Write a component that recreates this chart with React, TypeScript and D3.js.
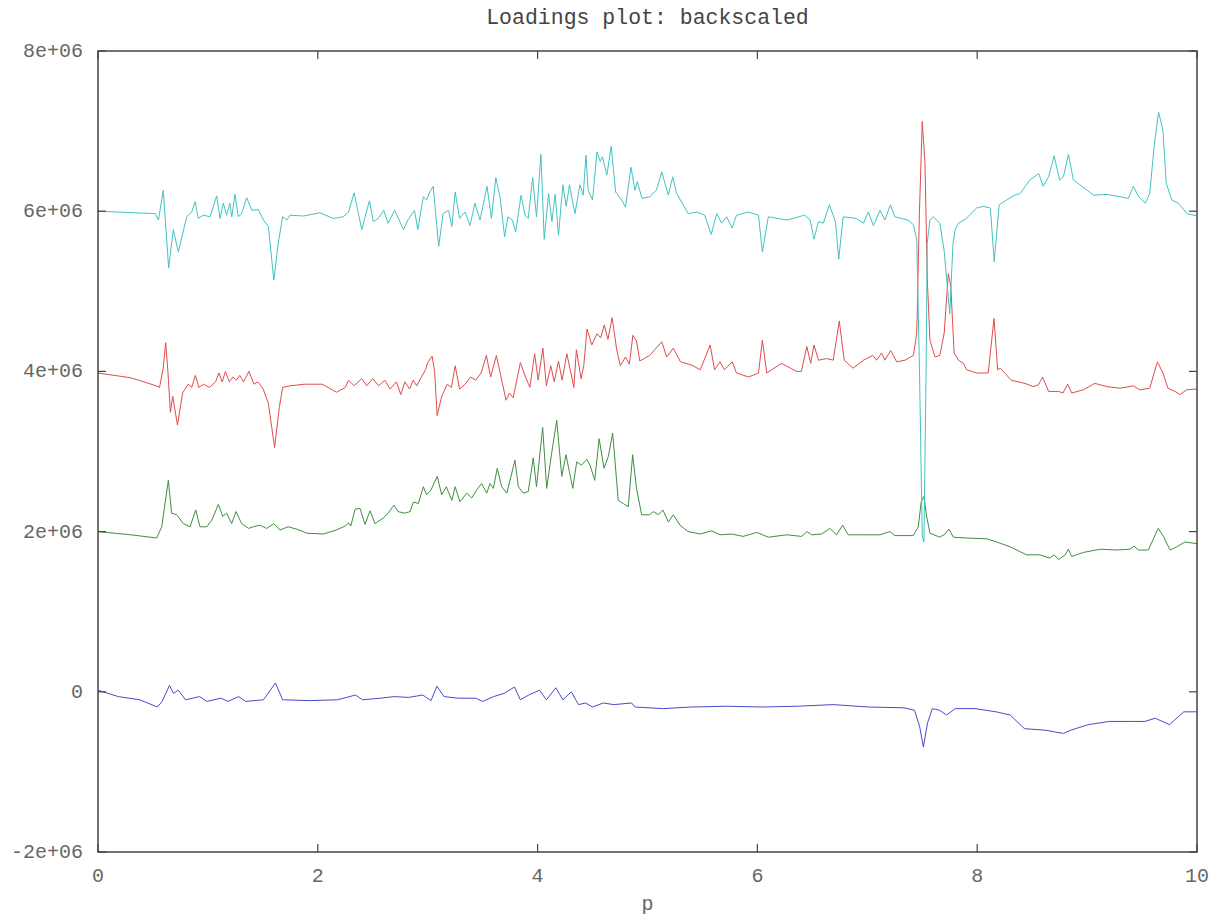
import React from "react";
import * as d3 from "d3";

const xTicks = [0, 2, 4, 6, 8, 10];
const yTicks = [-2e6, 0, 2e6, 4e6, 6e6, 8e6];
const titleText = "Loadings plot: backscaled";
const xLabel = "p";

// values: [p, loading in millions]
const blueSeries: [number, number][] = [
  [0, 0.02], [0.185, -0.06], [0.38, -0.1], [0.54, -0.19], [0.584, -0.12], [0.65, 0.08], [0.687, -0.02], [0.73, 0.02],
  [0.797, -0.1], [0.925, -0.06], [0.99, -0.12], [1.12, -0.08], [1.183, -0.12], [1.28, -0.06], [1.344, -0.12],
  [1.505, -0.1], [1.615, 0.11], [1.68, -0.1], [1.925, -0.11], [2.18, -0.1], [2.343, -0.04], [2.407, -0.1],
  [2.568, -0.08], [2.697, -0.06], [2.826, -0.07], [2.955, -0.04], [3.03, -0.11], [3.084, 0.07], [3.148, -0.06],
  [3.277, -0.08], [3.438, -0.08], [3.5, -0.12], [3.6, -0.06], [3.695, -0.02], [3.79, 0.06], [3.843, -0.1],
  [3.92, -0.04], [4.017, 0.02], [4.08, -0.1], [4.166, 0.05], [4.23, -0.1], [4.307, 0.0], [4.372, -0.16],
  [4.436, -0.14], [4.5, -0.19], [4.597, -0.14], [4.694, -0.16], [4.855, -0.14], [4.887, -0.19], [5.145, -0.21],
  [5.4, -0.19], [5.724, -0.18], [6.046, -0.19], [6.37, -0.18], [6.69, -0.16], [7.013, -0.19], [7.335, -0.2],
  [7.43, -0.23], [7.477, -0.44], [7.51, -0.69], [7.548, -0.39], [7.592, -0.21], [7.657, -0.23], [7.722, -0.29],
  [7.8, -0.21], [7.98, -0.21], [8.172, -0.25], [8.3, -0.29], [8.43, -0.46], [8.623, -0.48], [8.785, -0.52],
  [8.85, -0.48], [9.01, -0.41], [9.203, -0.37], [9.396, -0.37], [9.525, -0.37], [9.62, -0.33], [9.75, -0.41],
  [9.88, -0.25], [10, -0.25],
];

const greenSeries: [number, number][] = [
  [0, 2.0], [0.3, 1.96], [0.534, 1.92], [0.58, 2.06], [0.64, 2.64], [0.67, 2.23], [0.716, 2.21], [0.776, 2.1],
  [0.837, 2.06], [0.89, 2.27], [0.928, 2.06], [0.99, 2.06], [1.035, 2.14], [1.095, 2.34], [1.135, 2.19],
  [1.17, 2.23], [1.216, 2.1], [1.256, 2.25], [1.307, 2.1], [1.37, 2.04], [1.413, 2.06], [1.474, 2.08],
  [1.535, 2.04], [1.6, 2.1], [1.656, 2.02], [1.73, 2.06], [1.81, 2.03], [1.9, 1.98], [2.05, 1.97], [2.17, 2.02],
  [2.25, 2.07], [2.28, 2.11], [2.3, 2.07], [2.34, 2.28], [2.384, 2.29], [2.43, 2.09], [2.475, 2.26], [2.52, 2.1],
  [2.596, 2.17], [2.64, 2.23], [2.693, 2.33], [2.73, 2.25], [2.79, 2.23], [2.84, 2.25], [2.87, 2.37],
  [2.915, 2.35], [2.96, 2.56], [2.99, 2.46], [3.03, 2.52], [3.087, 2.69], [3.127, 2.46], [3.17, 2.56],
  [3.22, 2.39], [3.25, 2.56], [3.294, 2.37], [3.355, 2.48], [3.4, 2.42], [3.446, 2.52], [3.49, 2.6],
  [3.537, 2.48], [3.567, 2.6], [3.597, 2.54], [3.633, 2.79], [3.673, 2.56], [3.72, 2.48], [3.794, 2.89],
  [3.825, 2.56], [3.87, 2.48], [3.915, 2.5], [3.96, 2.92], [3.99, 2.56], [4.046, 3.3], [4.083, 2.54],
  [4.128, 2.98], [4.174, 3.39], [4.22, 2.69], [4.258, 2.96], [4.32, 2.54], [4.356, 2.87], [4.4, 2.83],
  [4.447, 2.9], [4.477, 2.83], [4.52, 2.64], [4.56, 3.16], [4.604, 2.79], [4.644, 2.94], [4.683, 3.23],
  [4.734, 2.39], [4.78, 2.35], [4.825, 2.31], [4.865, 2.96], [4.9, 2.54], [4.947, 2.21], [5.02, 2.21],
  [5.053, 2.25], [5.1, 2.21], [5.14, 2.27], [5.19, 2.12], [5.235, 2.21], [5.296, 2.08], [5.37, 2.0],
  [5.48, 1.97], [5.584, 2.01], [5.66, 1.96], [5.766, 1.97], [5.87, 1.94], [5.994, 1.99], [6.1, 1.93],
  [6.266, 1.96], [6.403, 1.94], [6.45, 2.0], [6.494, 1.96], [6.585, 1.97], [6.66, 2.04], [6.72, 1.96],
  [6.776, 2.08], [6.827, 1.96], [6.994, 1.96], [7.115, 1.96], [7.206, 2.0], [7.25, 1.95], [7.418, 1.95],
  [7.464, 2.06], [7.49, 2.37], [7.516, 2.44], [7.54, 2.19], [7.57, 1.98], [7.66, 1.93], [7.707, 1.97],
  [7.743, 2.03], [7.783, 1.93], [7.905, 1.92], [8.087, 1.91], [8.177, 1.87], [8.3, 1.81], [8.45, 1.71],
  [8.57, 1.71], [8.66, 1.67], [8.7, 1.71], [8.74, 1.65], [8.8, 1.71], [8.83, 1.78], [8.86, 1.69],
  [8.967, 1.74], [9.117, 1.78], [9.27, 1.77], [9.39, 1.78], [9.427, 1.82], [9.466, 1.77], [9.557, 1.77],
  [9.6, 1.9], [9.647, 2.04], [9.694, 1.94], [9.755, 1.77], [9.816, 1.81], [9.89, 1.87], [10, 1.85],
];

const redSeries: [number, number][] = [
  [0, 3.98], [0.3, 3.92], [0.53, 3.82], [0.56, 3.8], [0.593, 4.04], [0.616, 4.36], [0.636, 4.0], [0.659, 3.49],
  [0.68, 3.69], [0.723, 3.33], [0.77, 3.73], [0.82, 3.84], [0.853, 3.8], [0.886, 3.95], [0.918, 3.8],
  [0.96, 3.84], [1.015, 3.8], [1.07, 3.87], [1.1, 3.98], [1.13, 3.87], [1.16, 4.0], [1.195, 3.87],
  [1.227, 3.93], [1.26, 3.89], [1.29, 3.95], [1.325, 3.87], [1.373, 4.0], [1.42, 3.84], [1.455, 3.87],
  [1.503, 3.78], [1.55, 3.6], [1.607, 3.05], [1.65, 3.55], [1.68, 3.8], [1.75, 3.82], [1.877, 3.84],
  [2.04, 3.84], [2.17, 3.74], [2.25, 3.8], [2.28, 3.89], [2.33, 3.82], [2.4, 3.91], [2.445, 3.82], [2.5, 3.91],
  [2.553, 3.82], [2.61, 3.89], [2.657, 3.78], [2.715, 3.87], [2.755, 3.71], [2.793, 3.87], [2.835, 3.78],
  [2.868, 3.89], [2.9, 3.82], [2.943, 3.93], [2.98, 4.02], [3.0, 4.11], [3.04, 4.19], [3.063, 4.0],
  [3.086, 3.45], [3.128, 3.69], [3.177, 3.84], [3.216, 3.8], [3.25, 4.07], [3.29, 3.78], [3.34, 3.84],
  [3.39, 3.93], [3.437, 3.89], [3.486, 3.98], [3.534, 4.2], [3.573, 3.93], [3.625, 4.2], [3.664, 3.95],
  [3.713, 3.64], [3.745, 3.73], [3.778, 3.67], [3.843, 4.11], [3.89, 3.93], [3.93, 3.8], [3.973, 4.22],
  [4.005, 3.89], [4.048, 4.29], [4.08, 3.82], [4.12, 4.07], [4.152, 3.87], [4.19, 4.13], [4.223, 3.89],
  [4.266, 4.22], [4.3, 4.0], [4.33, 3.8], [4.353, 4.27], [4.396, 3.91], [4.42, 4.07], [4.45, 4.53],
  [4.493, 4.33], [4.54, 4.47], [4.574, 4.42], [4.607, 4.58], [4.64, 4.4], [4.678, 4.67], [4.72, 4.27],
  [4.753, 4.07], [4.8, 4.18], [4.835, 4.09], [4.867, 4.45], [4.9, 4.38], [4.93, 4.13], [5.02, 4.2],
  [5.13, 4.37], [5.175, 4.18], [5.235, 4.29], [5.3, 4.12], [5.4, 4.08], [5.48, 4.02], [5.57, 4.33],
  [5.61, 4.02], [5.66, 4.12], [5.7, 4.02], [5.77, 4.12], [5.81, 3.98], [5.92, 3.93], [6.01, 3.98],
  [6.045, 4.39], [6.085, 3.98], [6.22, 4.1], [6.357, 4.0], [6.4, 4.0], [6.45, 4.31], [6.485, 4.1],
  [6.515, 4.33], [6.555, 4.14], [6.63, 4.16], [6.69, 4.14], [6.745, 4.63], [6.79, 4.14], [6.87, 4.04],
  [6.965, 4.14], [7.05, 4.2], [7.085, 4.14], [7.13, 4.23], [7.16, 4.14], [7.213, 4.26], [7.267, 4.12],
  [7.343, 4.14], [7.42, 4.2], [7.45, 4.48], [7.474, 5.97], [7.5, 7.12], [7.525, 6.6], [7.546, 5.14],
  [7.57, 4.39], [7.616, 4.18], [7.66, 4.2], [7.7, 4.48], [7.737, 5.22], [7.76, 5.06], [7.79, 4.23],
  [7.83, 4.14], [7.874, 4.1], [7.905, 4.02], [7.995, 3.98], [8.1, 3.98], [8.153, 4.66], [8.186, 4.02],
  [8.21, 4.04], [8.31, 3.89], [8.435, 3.85], [8.51, 3.81], [8.556, 3.83], [8.595, 3.93], [8.65, 3.75],
  [8.74, 3.75], [8.78, 3.73], [8.823, 3.84], [8.86, 3.73], [8.965, 3.77], [9.07, 3.85], [9.18, 3.81],
  [9.3, 3.79], [9.42, 3.82], [9.48, 3.77], [9.57, 3.79], [9.61, 3.98], [9.64, 4.12], [9.69, 3.98],
  [9.735, 3.79], [9.8, 3.75], [9.845, 3.71], [9.905, 3.77], [10, 3.78],
];

const cyanSeries: [number, number][] = [
  [0, 6.0], [0.52, 5.97], [0.55, 5.89], [0.594, 6.26], [0.643, 5.29], [0.685, 5.77], [0.731, 5.49],
  [0.807, 5.93], [0.853, 5.99], [0.883, 6.12], [0.913, 5.91], [0.958, 5.95], [1.02, 5.93], [1.08, 6.19],
  [1.11, 5.91], [1.14, 6.1], [1.17, 5.95], [1.2, 6.1], [1.217, 5.93], [1.247, 6.21], [1.277, 5.93],
  [1.307, 5.97], [1.353, 6.17], [1.4, 6.01], [1.46, 6.02], [1.505, 5.89], [1.55, 5.81], [1.6, 5.14],
  [1.64, 5.6], [1.68, 5.93], [1.717, 5.89], [1.747, 5.95], [1.87, 5.94], [2.02, 5.98], [2.14, 5.91],
  [2.23, 5.93], [2.28, 5.99], [2.33, 6.23], [2.4, 5.77], [2.47, 6.13], [2.505, 5.87], [2.55, 5.91],
  [2.6, 6.01], [2.64, 5.85], [2.7, 6.01], [2.78, 5.77], [2.82, 5.89], [2.88, 6.01], [2.91, 5.77],
  [2.96, 6.18], [2.99, 6.14], [3.02, 6.24], [3.05, 6.31], [3.1, 5.56], [3.14, 5.97], [3.19, 6.01],
  [3.22, 5.81], [3.25, 6.24], [3.29, 5.91], [3.34, 5.99], [3.385, 5.82], [3.43, 6.1], [3.476, 5.89],
  [3.54, 6.31], [3.58, 5.91], [3.62, 6.42], [3.66, 6.16], [3.7, 5.68], [3.73, 5.93], [3.77, 5.89],
  [3.8, 5.74], [3.85, 6.2], [3.885, 5.95], [3.915, 5.91], [3.955, 6.42], [3.99, 5.93], [4.03, 6.71],
  [4.06, 5.65], [4.1, 6.22], [4.13, 5.87], [4.16, 6.21], [4.19, 5.7], [4.23, 6.33], [4.26, 6.06],
  [4.29, 6.33], [4.34, 5.97], [4.385, 6.33], [4.415, 6.2], [4.44, 6.7], [4.46, 6.26], [4.5, 6.14],
  [4.54, 6.74], [4.57, 6.62], [4.59, 6.68], [4.63, 6.45], [4.67, 6.81], [4.71, 6.24], [4.765, 6.14],
  [4.8, 6.05], [4.85, 6.55], [4.886, 6.26], [4.907, 6.37], [4.95, 6.16], [5.02, 6.18], [5.08, 6.26],
  [5.13, 6.49], [5.19, 6.2], [5.23, 6.43], [5.265, 6.22], [5.325, 6.08], [5.37, 5.97], [5.45, 5.99],
  [5.52, 5.95], [5.58, 5.71], [5.63, 5.97], [5.675, 5.85], [5.72, 5.93], [5.77, 5.79], [5.81, 5.95],
  [5.92, 5.99], [6.01, 5.95], [6.045, 5.49], [6.1, 5.93], [6.27, 5.89], [6.43, 5.95], [6.48, 5.89],
  [6.515, 5.65], [6.555, 5.87], [6.6, 5.85], [6.655, 6.08], [6.71, 5.87], [6.74, 5.4], [6.78, 5.93],
  [6.9, 5.91], [6.965, 5.85], [7.01, 5.99], [7.055, 5.82], [7.115, 6.01], [7.16, 5.89], [7.21, 6.08],
  [7.25, 5.93], [7.31, 5.91], [7.37, 5.89], [7.42, 5.83], [7.45, 5.64], [7.475, 4.0], [7.5, 1.95],
  [7.515, 1.87], [7.535, 4.0], [7.545, 5.6], [7.57, 5.89], [7.6, 5.93], [7.66, 5.85], [7.7, 5.5],
  [7.75, 4.72], [7.78, 5.6], [7.8, 5.77], [7.83, 5.85], [7.9, 5.91], [7.995, 6.04], [8.055, 6.06],
  [8.12, 6.04], [8.155, 5.37], [8.2, 6.08], [8.27, 6.14], [8.34, 6.2], [8.39, 6.22], [8.48, 6.39],
  [8.56, 6.47], [8.6, 6.31], [8.65, 6.43], [8.7, 6.69], [8.75, 6.39], [8.785, 6.43], [8.83, 6.71],
  [8.875, 6.39], [8.935, 6.33], [9.06, 6.2], [9.18, 6.21], [9.3, 6.18], [9.375, 6.16], [9.42, 6.31],
  [9.47, 6.18], [9.53, 6.1], [9.57, 6.22], [9.61, 6.81], [9.65, 7.24], [9.69, 7.01], [9.72, 6.35],
  [9.77, 6.14], [9.83, 6.1], [9.91, 5.97], [10, 5.94],
];

const seriesList = [
  { name: "blue", data: blueSeries, color: "#4a4acc" },
  { name: "green", data: greenSeries, color: "#3f8f3f" },
  { name: "red", data: redSeries, color: "#e04c4c" },
  { name: "cyan", data: cyanSeries, color: "#44c2c2" },
];

const W = 1211;
const H = 920;
const M = { left: 98, right: 1197, top: 51, bottom: 852 };
const FONT = "'Liberation Mono', 'Courier New', monospace";

function fmtY(v: number) {
  if (v === 0) return "0";
  return `${v / 1e6}e+06`;
}

export default function App() {
  const x = d3.scaleLinear().domain([0, 10]).range([M.left, M.right]);
  const y = d3.scaleLinear().domain([-2e6, 8e6]).range([M.bottom, M.top]);
  const line = d3
    .line<[number, number]>()
    .x((d) => x(d[0]))
    .y((d) => y(d[1] * 1e6));
  const tick = 8;
  const axisColor = "#444";
  const textColor = "#666";
  return (
    <svg
      width={W}
      height={H}
      style={{ position: "absolute", left: 0, top: 0, background: "#fff" }}
    >
      <rect x={0} y={0} width={W} height={H} fill="#fff" />
      <text x={(M.left + M.right) / 2} y={24} textAnchor="middle" fontFamily={FONT} fontSize={21.5} fill="#444">
        {titleText}
      </text>
      <g>
        {seriesList.map((s) => (
          <path key={s.name} d={line(s.data) || ""} fill="none" stroke={s.color} strokeWidth={1} />
        ))}
      </g>
      <rect
        x={M.left}
        y={M.top}
        width={M.right - M.left}
        height={M.bottom - M.top}
        fill="none"
        stroke={axisColor}
        strokeWidth={1.5}
      />
      {xTicks.map((t) => (
        <g key={"x" + t}>
          <line x1={x(t)} x2={x(t)} y1={M.bottom} y2={M.bottom - tick} stroke={axisColor} strokeWidth={1.2} />
          <line x1={x(t)} x2={x(t)} y1={M.top} y2={M.top + tick} stroke={axisColor} strokeWidth={1.2} />
          <text x={x(t)} y={882} textAnchor="middle" fontFamily={FONT} fontSize={20} fill={textColor}>
            {String(t)}
          </text>
        </g>
      ))}
      {yTicks.map((t) => (
        <g key={"y" + t}>
          <line x1={M.left} x2={M.left + tick} y1={y(t)} y2={y(t)} stroke={axisColor} strokeWidth={1.2} />
          <line x1={M.right} x2={M.right - tick} y1={y(t)} y2={y(t)} stroke={axisColor} strokeWidth={1.2} />
          <text x={83} y={y(t) + 6} textAnchor="end" fontFamily={FONT} fontSize={20} fill={textColor}>
            {fmtY(t)}
          </text>
        </g>
      ))}
      <text x={(M.left + M.right) / 2} y={910} textAnchor="middle" fontFamily={FONT} fontSize={20} fill={textColor}>
        {xLabel}
      </text>
    </svg>
  );
}
